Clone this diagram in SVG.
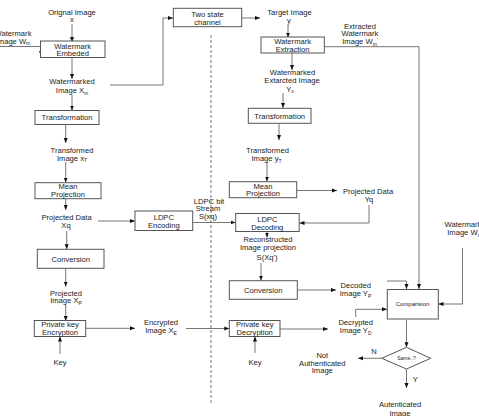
<svg xmlns="http://www.w3.org/2000/svg" width="479" height="416" viewBox="0 0 479 416">
<defs>
<style>
.box{fill:#fff;stroke:#555;stroke-width:1}
text{font-family:"Liberation Sans",Arial,sans-serif;font-size:7.6px;fill:#222;text-anchor:middle}
.sm{font-size:6px}
.xs{font-size:5px}
.sub{font-size:5px}
.conn path,.conn line{fill:none;stroke:#666;stroke-width:0.9}
.arr{marker-end:url(#ah)}
.dash{stroke:#666;stroke-width:0.9;stroke-dasharray:3 2;fill:none}
</style>
<marker id="ah" viewBox="0 0 10 10" refX="10" refY="5" markerWidth="5" markerHeight="5" orient="auto" markerUnits="userSpaceOnUse">
<path d="M0,1 L10,5 L0,9 z" fill="#111"/>
</marker>
</defs>
<rect width="479" height="416" fill="#fff"/>

<line class="dash" x1="211" y1="35" x2="211" y2="405"/>

<g id="connectors" class="conn">
<line class="arr" x1="72" y1="24" x2="72" y2="42"/>
<path class="arr" d="M0,46.5 H41 V56"/>
<line class="arr" x1="72" y1="57.5" x2="72" y2="79"/>
<path class="arr" d="M110,85 H163 V18 H173"/>
<line class="arr" x1="242" y1="18" x2="260" y2="18"/>
<line class="arr" x1="288" y1="25" x2="288" y2="37.5"/>
<line class="arr" x1="292" y1="52.5" x2="292" y2="70"/>
<line class="arr" x1="283" y1="93" x2="283" y2="108"/>
<line class="arr" x1="279" y1="123.5" x2="279" y2="140"/>
<line class="arr" x1="267" y1="162" x2="267" y2="181.5"/>
<line class="arr" x1="297" y1="190.5" x2="337" y2="190.5"/>
<path class="arr" d="M369,205 V223 H299.5"/>
<line class="arr" x1="193" y1="222.5" x2="235.5" y2="222.5"/>
<line class="arr" x1="267" y1="231.5" x2="267" y2="237.5"/>
<line class="arr" x1="261" y1="263" x2="261" y2="280.5"/>
<line class="arr" x1="297.5" y1="290" x2="336" y2="290"/>
<path class="arr" d="M387,281 H406.5 V289"/>
<path class="arr" d="M324.5,46.7 H419 V289"/>
<path class="arr" d="M462.5,248 V304 H438.5"/>
<path class="arr" d="M355.7,317 V309.3 H387"/>
<line class="arr" x1="406.5" y1="319.5" x2="406.5" y2="347.3"/>
<line class="arr" x1="381.7" y1="358.3" x2="358" y2="358.3"/>
<line class="arr" x1="406.5" y1="369" x2="406.5" y2="388"/>
<line class="arr" x1="72" y1="95" x2="72" y2="110.5"/>
<line class="arr" x1="65.7" y1="124.5" x2="65.7" y2="143"/>
<line class="arr" x1="65.7" y1="162" x2="65.7" y2="182.5"/>
<line class="arr" x1="65.7" y1="198.5" x2="65.7" y2="210"/>
<line class="arr" x1="98" y1="221" x2="135" y2="221"/>
<line class="arr" x1="66.7" y1="231" x2="66.7" y2="249.3"/>
<line class="arr" x1="65.7" y1="268.5" x2="65.7" y2="286.5"/>
<line class="arr" x1="65.7" y1="305" x2="65.7" y2="321"/>
<line class="arr" x1="85.7" y1="328.3" x2="135" y2="328.3"/>
<line class="arr" x1="186" y1="328.5" x2="229.3" y2="328.5"/>
<line class="arr" x1="280" y1="329" x2="328" y2="329"/>
<line class="arr" x1="60" y1="354" x2="60" y2="336.5"/>
<line class="arr" x1="255" y1="353" x2="255" y2="336.5"/>
</g>

<g id="orig-image"><text x="72" y="14.5">Orignal Image</text><text x="72" y="22">x</text></g>
<g id="wm-image"><text x="13" y="35.5">Watermark</text><text x="13" y="43.5">Image W<tspan class="sub" dy="1.5">m</tspan></text></g>
<g id="wm-embed"><rect class="box" x="40.5" y="41" width="64.5" height="16.5"/><text x="72.7" y="48.5">Watermark</text><text x="72.7" y="56">Embeded</text></g>
<g id="wm-image-xm"><text x="72" y="84">Watermarked</text><text x="72" y="93">Image X<tspan class="sub" dy="1.5">m</tspan></text></g>
<g id="channel"><rect class="box" x="173.3" y="8.3" width="68.4" height="18.4"/><text x="207.5" y="17">Two state</text><text x="207.5" y="25">channel</text></g>
<g id="target"><text x="289.5" y="14.5">Target Image</text><text x="289" y="22.5">y</text></g>
<g id="wm-extract"><rect class="box" x="261" y="37" width="63.3" height="16"/><text x="292.6" y="44.2">Watermark</text><text x="292.6" y="51.7">Extraction</text></g>
<g id="extracted-wm"><text x="360" y="28.5">Extracted</text><text x="360" y="36.3">Watermark</text><text x="360" y="44">Image W<tspan class="sub" dy="1.5">m</tspan><tspan class="sub" dy="-4">'</tspan></text></g>
<g id="yx"><text x="292.5" y="75.3">Watermarked</text><text x="292" y="83.3">Extarcted Image</text><text x="290" y="91.5">Y<tspan class="sub" dy="1.5">x</tspan></text></g>
<g id="transform-r"><rect class="box" x="248.3" y="108.3" width="62.7" height="15"/><text x="279.7" y="118.8">Transformation</text></g>
<g id="yt"><text x="267.5" y="153">Transformed</text><text x="266.5" y="161">Image y<tspan class="sub" dy="1.5">T</tspan></text></g>
<g id="mean-r"><rect class="box" x="229.3" y="181.7" width="67.4" height="16"/><text x="263" y="188.5">Mean</text><text x="263" y="196.2">Projection</text></g>
<g id="yq"><text x="368" y="194">Projected Data</text><text x="369" y="202.3">Yq</text></g>
<g id="ldpc-dec"><rect class="box" x="235.7" y="213.5" width="63.5" height="18"/><text x="267.3" y="221.8">LDPC</text><text x="267.3" y="229.8">Decoding</text></g>
<g id="ldpc-stream"><text x="209" y="203.5">LDPC bit</text><text x="208" y="211.2">Stream</text><text x="208" y="218.7">S(xq)</text></g>
<g id="recon"><text x="268" y="242">Reconstructed</text><text x="268" y="250.3">Image projection</text><text x="267" y="259.5">S(Xq')</text></g>
<g id="conv-r"><rect class="box" x="229.3" y="280.7" width="68" height="18.6"/><text x="263.3" y="292.6">Conversion</text></g>
<g id="yp"><text x="355.7" y="288">Decoded</text><text x="355.5" y="296.3">Image Y<tspan class="sub" dy="1.5">P</tspan></text></g>
<g id="wi"><text x="463" y="227.3">Watermark</text><text x="463" y="235">Image W<tspan class="sub" dy="1.5">i</tspan></text></g>
<g id="compare"><rect class="box" x="387.3" y="289.5" width="51" height="29.5"/><text class="sm" x="412.5" y="306.3">Comparision</text></g>
<g id="same"><path class="box" d="M406.5,347.3 L430.7,358.3 L406.5,369 L381.7,358.3 Z"/><text class="xs" x="406.5" y="360">Same..?</text></g>
<g id="n-label"><text x="374" y="354">N</text></g>
<g id="y-label"><text x="415.3" y="382.3">Y</text></g>
<g id="not-auth"><text x="322.3" y="358">Not</text><text x="322.3" y="365.7">Authenticated</text><text x="322.3" y="373.3">Image</text></g>
<g id="auth"><text x="400" y="407.3">Autenticated</text><text x="400" y="415.5">Image</text></g>
<g id="pk-dec"><rect class="box" x="229.3" y="320.5" width="50.7" height="16"/><text x="254.7" y="327.3">Private key</text><text x="254.7" y="334.9">Decryption</text></g>
<g id="yd"><text x="355.7" y="325.3">Decrypted</text><text x="355.7" y="333">Image Y<tspan class="sub" dy="1.5">D</tspan></text></g>
<g id="key-r"><text x="255" y="364.5">Key</text></g>
<g id="transform-l"><rect class="box" x="35" y="110.5" width="64" height="14"/><text x="67" y="120.3">Transformation</text></g>
<g id="xt"><text x="72" y="153">Transformed</text><text x="72" y="160.7">Image x<tspan class="sub" dy="1.5">T</tspan></text></g>
<g id="mean-l"><rect class="box" x="35" y="182.7" width="66" height="16"/><text x="68" y="189.3">Mean</text><text x="68" y="197">Projection</text></g>
<g id="xq"><text x="66.5" y="220.3">Projected Data</text><text x="66" y="228.2">Xq</text></g>
<g id="ldpc-enc"><rect class="box" x="135" y="211" width="57.7" height="19.5"/><text x="163.8" y="220.3">LDPC</text><text x="163.8" y="228.2">Encoding</text></g>
<g id="conv-l"><rect class="box" x="37.3" y="249.3" width="66.7" height="19"/><text x="70.7" y="261.6">Conversion</text></g>
<g id="xp"><text x="66" y="295.7">Projected</text><text x="66" y="303.3">Image X<tspan class="sub" dy="1.5">P</tspan></text></g>
<g id="pk-enc"><rect class="box" x="34.3" y="320.5" width="51.4" height="16"/><text x="60" y="327.3">Private key</text><text x="60" y="334.9">Encryption</text></g>
<g id="xe"><text x="161" y="325.3">Encrypted</text><text x="161" y="333">Image X<tspan class="sub" dy="1.5">E</tspan></text></g>
<g id="key-l"><text x="60" y="364.5">Key</text></g>
</svg>
